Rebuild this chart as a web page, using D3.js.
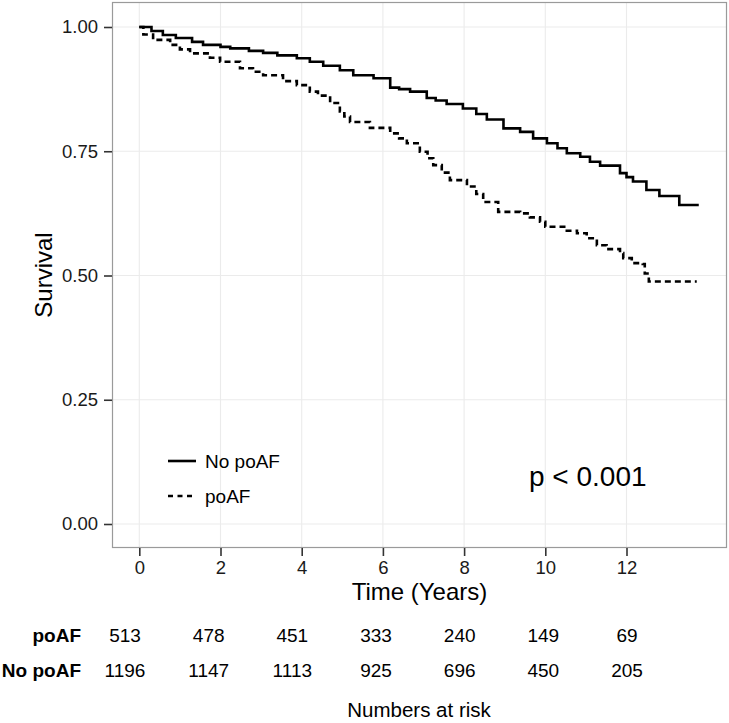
<!DOCTYPE html>
<html><head><meta charset="utf-8">
<script src="https://cdn.jsdelivr.net/npm/d3@7"></script>
<style>html,body{margin:0;padding:0;background:#fff;} svg{display:block;font-family:"Liberation Sans",Arial,sans-serif;}</style>
</head><body>
<script>
// ---- data ----
const noPoafTime = [0,0.3,0.58,0.9,1.3,1.57,2.0,2.24,2.7,3.05,3.4,3.88,4.2,4.53,4.94,5.27,5.77,6.18,6.4,6.67,7.08,7.3,7.57,7.97,8.3,8.56,8.97,9.38,9.70,10.04,10.3,10.53,10.86,11.1,11.35,11.84,12.0,12.16,12.49,12.81,13.30,13.78];
const noPoafSurv = [1.0,0.992,0.984,0.978,0.970,0.964,0.960,0.957,0.952,0.948,0.943,0.937,0.930,0.922,0.913,0.903,0.897,0.878,0.875,0.870,0.857,0.852,0.845,0.836,0.825,0.814,0.796,0.789,0.776,0.766,0.756,0.746,0.739,0.729,0.721,0.706,0.698,0.689,0.672,0.660,0.642,0.642];
const poafTime = [0,0.1,0.34,0.76,1.0,1.25,1.74,1.99,2.48,2.8,3.05,3.54,3.88,4.2,4.4,4.7,4.94,5.05,5.19,5.68,6.18,6.4,6.59,6.91,7.1,7.24,7.45,7.65,8.07,8.3,8.47,8.84,9.38,9.62,9.87,10.0,10.53,10.78,11.02,11.27,11.51,11.84,11.92,12.13,12.4,12.45,12.55,13.73];
const poafSurv = [1.0,0.985,0.974,0.964,0.955,0.947,0.938,0.930,0.917,0.910,0.903,0.891,0.883,0.870,0.862,0.847,0.830,0.820,0.809,0.797,0.786,0.776,0.766,0.749,0.736,0.722,0.707,0.692,0.679,0.664,0.648,0.628,0.625,0.617,0.608,0.598,0.590,0.585,0.575,0.561,0.553,0.545,0.535,0.525,0.523,0.504,0.488,0.488];
const xTicks = [0,2,4,6,8,10,12];
const yTicks = [0,0.25,0.5,0.75,1.0];
const yTickLabels = ["0.00","0.25","0.50","0.75","1.00"];
const riskGroups = ["poAF","No poAF"];
const riskPoaf = [513,478,451,333,240,149,69];
const riskNoPoaf = [1196,1147,1113,925,696,450,205];
const legendLabels = ["No poAF","poAF"];
const pText = "p < 0.001";

// ---- layout ----
const W=729,H=723;
const panel={l:112,r:727,t:2,b:548};
const svg=d3.select("body").append("svg").attr("width",W).attr("height",H);
const x=d3.scaleLinear().domain([0,12]).range([139.3,626.5]);
const y=d3.scaleLinear().domain([0,1]).range([524,27]);
const xr=d3.scaleLinear().domain([0,12]).range([125,627]);

// panel background & grid
svg.append("rect").attr("x",panel.l).attr("y",panel.t).attr("width",panel.r-panel.l).attr("height",panel.b-panel.t).attr("fill","#fff");
const g=svg.append("g");
g.selectAll(".gx").data(xTicks).join("line").attr("x1",d=>x(d)).attr("x2",d=>x(d)).attr("y1",panel.t).attr("y2",panel.b).attr("stroke","#ebebeb").attr("stroke-width",1.1);
g.selectAll(".gy").data(yTicks).join("line").attr("y1",d=>y(d)).attr("y2",d=>y(d)).attr("x1",panel.l).attr("x2",panel.r).attr("stroke","#ebebeb").attr("stroke-width",1.1);

// curves
const line=d3.line().x(d=>x(d[0])).y(d=>y(d[1])).curve(d3.curveStepAfter);
const solidData=noPoafTime.map((t,i)=>[t,noPoafSurv[i]]);
const dashData=poafTime.map((t,i)=>[t,poafSurv[i]]);
svg.append("path").attr("d",line(dashData)).attr("fill","none").attr("stroke","#000").attr("stroke-width",2.6).attr("stroke-dasharray","6,4");
svg.append("path").attr("d",line(solidData)).attr("fill","none").attr("stroke","#000").attr("stroke-width",2.6);

// border
svg.append("rect").attr("x",panel.l+0.5).attr("y",panel.t+0.5).attr("width",panel.r-panel.l-1).attr("height",panel.b-panel.t-1).attr("fill","none").attr("stroke","#9a9a9a").attr("stroke-width",1.2);

// axes
const ax=svg.append("g").attr("transform",`translate(0,${panel.b})`).call(d3.axisBottom(x).tickValues(xTicks).tickSize(8).tickPadding(5).tickFormat(d3.format("d")));
ax.select(".domain").remove();
ax.selectAll("line").attr("stroke","#333").attr("stroke-width",1.6);
ax.selectAll("text").attr("font-size",18.5).attr("fill","#1a1a1a").attr("font-family","Liberation Sans, Arial, sans-serif");
const ay=svg.append("g").attr("transform",`translate(${panel.l},0)`).call(d3.axisLeft(y).tickValues(yTicks).tickSize(8).tickPadding(6).tickFormat((d,i)=>yTickLabels[i]));
ay.select(".domain").remove();
ay.selectAll("line").attr("stroke","#333").attr("stroke-width",1.6);
ay.selectAll("text").attr("font-size",18.5).attr("fill","#1a1a1a").attr("font-family","Liberation Sans, Arial, sans-serif");

// titles
svg.append("text").attr("x",(panel.l+panel.r)/2).attr("y",600).attr("text-anchor","middle").attr("font-size",24).text("Time (Years)");
svg.append("text").attr("transform",`translate(52,${(panel.t+panel.b)/2}) rotate(-90)`).attr("text-anchor","middle").attr("font-size",24).text("Survival");

// legend
const lg=svg.append("g");
lg.append("line").attr("x1",168).attr("x2",196).attr("y1",461).attr("y2",461).attr("stroke","#000").attr("stroke-width",2.6);
lg.append("line").attr("x1",168).attr("x2",196).attr("y1",496).attr("y2",496).attr("stroke","#000").attr("stroke-width",2.6).attr("stroke-dasharray","5,4.5");
lg.append("text").attr("x",205).attr("y",468).attr("font-size",19).text(legendLabels[0]);
lg.append("text").attr("x",205).attr("y",503).attr("font-size",19).text(legendLabels[1]);

// p value
svg.append("text").attr("x",529).attr("y",486).attr("font-size",28).text(pText);

// risk table
const rows=[riskPoaf,riskNoPoaf];
const rowY=[642,677];
rows.forEach((vals,ri)=>{
  svg.append("text").attr("x",81).attr("y",rowY[ri]).attr("text-anchor","end").attr("font-size",19).attr("font-weight","bold").text(riskGroups[ri]);
  svg.selectAll(null).data(vals).join("text").attr("x",(d,i)=>xr(xTicks[i])).attr("y",rowY[ri]).attr("text-anchor","middle").attr("font-size",19).text(d=>d);
});
svg.append("text").attr("x",419).attr("y",717).attr("text-anchor","middle").attr("font-size",20.5).text("Numbers at risk");
</script>
</body></html>
